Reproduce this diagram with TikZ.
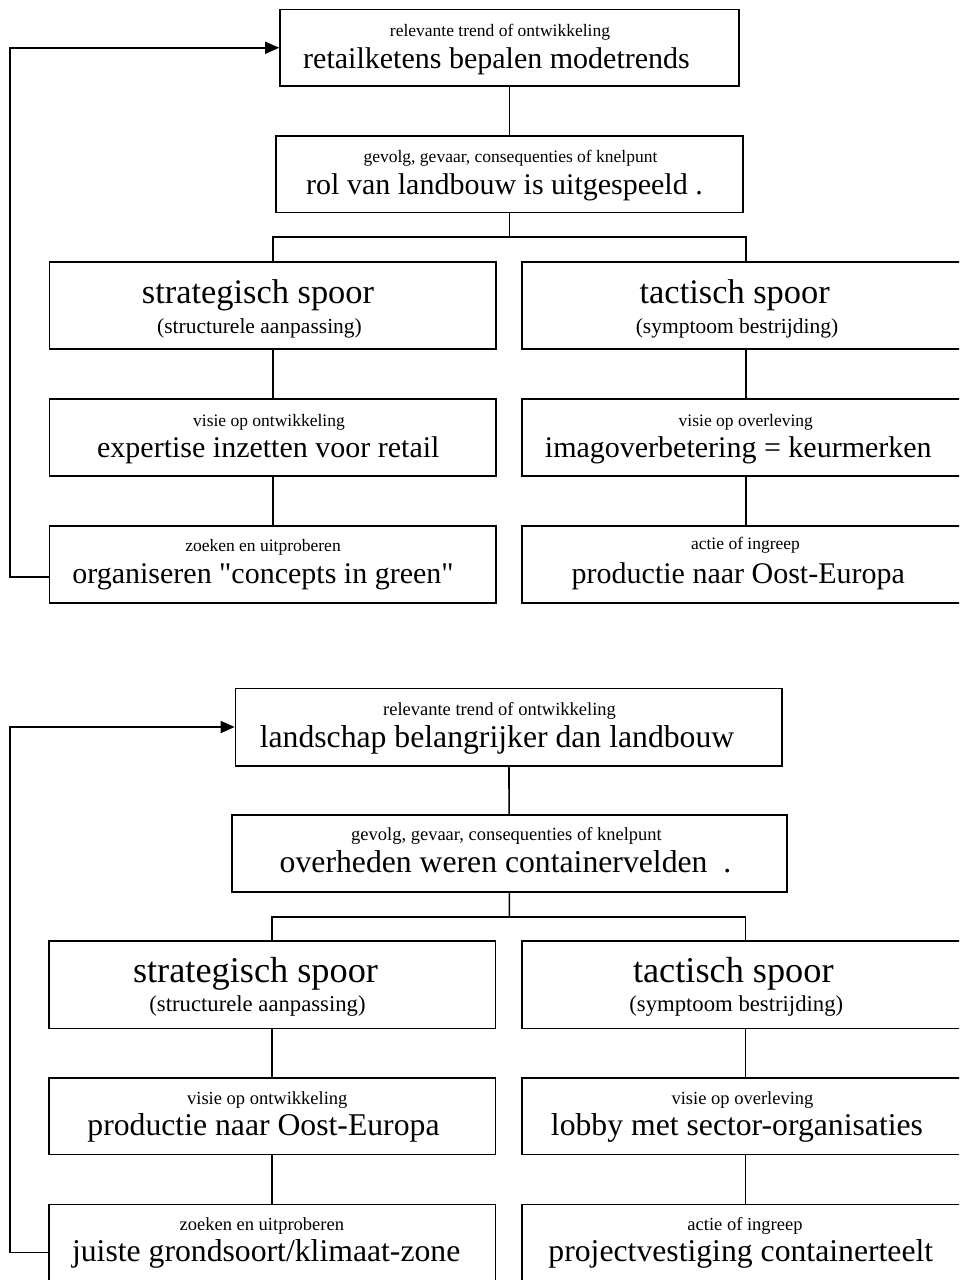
\documentclass[tikz,border=0pt]{standalone}
\usepackage{fontspec}
\setmainfont{Liberation Serif}[Ligatures=TeXOff]
\usetikzlibrary{arrows.meta}
\tikzset{
  boxst/.style={draw=black, line width=1.6pt, rectangle, inner sep=0pt, fill=none},
  conn/.style={draw=black, line width=1.6pt},
  fbarrow/.style={conn, -{Triangle[length=14pt,width=12pt]}},
  lbl/.style={anchor=base, inner sep=0pt, text=black},
  smA/.style={lbl, font=\fontsize{17.5}{20}\selectfont},
  mdA/.style={lbl, font=\fontsize{30}{34}\selectfont},
  lgA/.style={lbl, font=\fontsize{34.4}{38}\selectfont},
  prA/.style={lbl, font=\fontsize{21.5}{24}\selectfont},
  smB/.style={lbl, font=\fontsize{18.5}{21}\selectfont},
  mdB/.style={lbl, font=\fontsize{31.7}{36}\selectfont},
  lgB/.style={lbl, font=\fontsize{36.3}{40}\selectfont},
  prB/.style={lbl, font=\fontsize{22.7}{26}\selectfont},
}
\newcommand\mybox[5]{%
  \node[boxst, minimum width={#4-#2}, minimum height={#5-#3}] (#1) at ({(#2+#4)/2},{(#3+#5)/2}) {};}
\begin{document}
\begin{tikzpicture}[x=1pt, y=-1pt]
\useasboundingbox (0,0) rectangle (959,1280);
\clip (0,0) rectangle (959,1280);
\fill[white] (0,0) rectangle (959,1280);

% ---------------- top diagram ----------------
\mybox{A}{280}{9.5}{739}{86}
\mybox{B}{276}{136}{743}{212.5}
\mybox{S}{49.5}{262}{496}{349}
\mybox{T}{522}{262}{970}{349}
\mybox{S2}{49.5}{399}{496}{476}
\mybox{T2}{522}{399}{970}{476}
\mybox{S3}{49.5}{526}{496}{603}
\mybox{T3}{522}{526}{970}{603}

\node[smA] (As) at (500,36) {relevante trend of ontwikkeling};
\node[mdA] (Am) at (496.5,68.3) {retailketens bepalen modetrends};
\node[smA] (Bs) at (510.5,162.7) {gevolg, gevaar, consequenties of knelpunt};
\node[mdA] (Bm) at (504.5,194) {rol van landbouw is uitgespeeld .};
\node[lgA] (Sl) at (258,303) {strategisch spoor};
\node[prA] (Sp) at (259.5,333) {(structurele aanpassing)};
\node[lgA] (Tl) at (734.7,303) {tactisch spoor};
\node[prA] (Tp) at (737,333) {(symptoom bestrijding)};
\node[smA] (S2s) at (269,426) {visie op ontwikkeling};
\node[mdA] (S2m) at (268.3,457) {expertise inzetten voor retail};
\node[smA] (T2s) at (745.8,426) {visie op overleving};
\node[mdA] (T2m) at (738.3,457) {imagoverbetering = keurmerken};
\node[smA] (S3s) at (263,551.7) {zoeken en uitproberen};
\node[mdA] (S3m) at (263,583.3) {organiseren "concepts in green"};
\node[smA] (T3s) at (745.5,549.5) {actie of ingreep};
\node[mdA] (T3m) at (738.3,583.3) {productie naar Oost-Europa};

\coordinate (jA) at (509.5,237);
\draw[conn] (A) -- (B);
\draw[conn] (B.south) -- (jA);
\draw[conn] (S.north) |- (jA) -| (T.north);
\draw[conn] (S) -- (S2);
\draw[conn] (S2) -- (S3);
\draw[conn] (T) -- (T2);
\draw[conn] (T2) -- (T3);
\coordinate (fA1) at (49.5,577);
\coordinate (fA2) at (10,577);
\draw[fbarrow] (fA1) -- (fA2) |- (A.west);

% ---------------- bottom diagram ----------------
\mybox{A2}{235.5}{688.3}{782}{765.7}
\mybox{B2}{232}{815}{786.7}{891.7}
\mybox{Sb}{48.7}{941}{495.3}{1028.3}
\mybox{Tb}{522}{941}{968.6}{1028.3}
\mybox{Sb2}{48.7}{1077.7}{495.3}{1154.3}
\mybox{Tb2}{522}{1077.7}{968.6}{1154.3}
\mybox{Sb3}{48.7}{1204.3}{495.3}{1300}
\mybox{Tb3}{522}{1204.3}{968.6}{1300}

\node[smB] (A2s) at (499.5,715) {relevante trend of ontwikkeling};
\node[mdB] (A2m) at (497,747.3) {landschap belangrijker dan landbouw};
\node[smB] (B2s) at (506.5,840.7) {gevolg, gevaar, consequenties of knelpunt};
\node[mdB] (B2m) at (505.5,872.7) {overheden weren containervelden\ \ .};
\node[lgB] (Sbl) at (255.5,982.7) {strategisch spoor};
\node[prB] (Sbp) at (257.5,1011.7) {(structurele aanpassing)};
\node[lgB] (Tbl) at (733.3,982.7) {tactisch spoor};
\node[prB] (Tbp) at (736.3,1011.7) {(symptoom bestrijding)};
\node[smB] (Sb2s) at (267.3,1104) {visie op ontwikkeling};
\node[mdB] (Sb2m) at (263.5,1135) {productie naar Oost-Europa};
\node[smB] (Tb2s) at (742.5,1104) {visie op overleving};
\node[mdB] (Tb2m) at (737,1135) {lobby met sector-organisaties};
\node[smB] (Sb3s) at (261.8,1230.7) {zoeken en uitproberen};
\node[mdB] (Sb3m) at (266.2,1261.7) {juiste grondsoort/klimaat-zone};
\node[smB] (Tb3s) at (745,1230.7) {actie of ingreep};
\node[mdB] (Tb3m) at (740.8,1261.7) {projectvestiging containerteelt};

\coordinate (jB) at (509.3,916.7);
\draw[conn] (A2) -- (B2);
\draw[conn] (B2.south) -- (jB);
\draw[conn] (Sb.north) |- (jB) -| (Tb.north);
\draw[conn] (Sb) -- (Sb2);
\draw[conn] (Sb2) -- (Sb3);
\draw[conn] (Tb) -- (Tb2);
\draw[conn] (Tb2) -- (Tb3);
\coordinate (fB1) at (48.7,1252.3);
\coordinate (fB2) at (10,1252.3);
\draw[fbarrow] (fB1) -- (fB2) |- (A2.west);
\end{tikzpicture}
\end{document}
